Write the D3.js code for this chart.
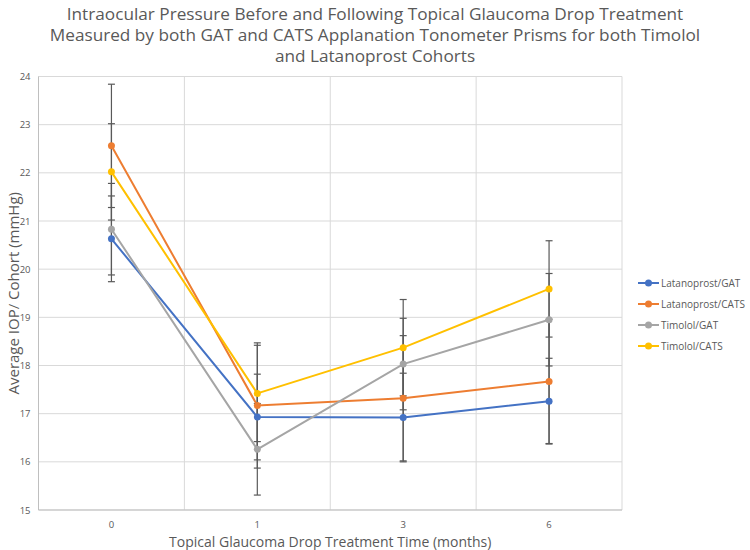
<!DOCTYPE html>
<html><head><meta charset="utf-8">
<script src="https://cdn.jsdelivr.net/npm/d3@7"></script>
<style>body{margin:0;background:#fff}svg{display:block}text{font-family:"Open Sans",sans-serif;fill:#595959}</style>
</head><body><svg id="c" width="750" height="550"></svg>
<script>
const categories = ["0", "1", "3", "6"];
const seriesNames = ["Latanoprost/GAT", "Latanoprost/CATS", "Timolol/GAT", "Timolol/CATS"];
const latanoprostGAT = [20.63, 16.93, 16.92, 17.26];
const latanoprostCATS = [22.56, 17.17, 17.32, 17.67];
const timololGAT = [20.83, 16.26, 18.03, 18.95];
const timololCATS = [22.02, 17.42, 18.37, 19.59];
const errLatanoprostGAT = [0.89, 0.89, 0.92, 0.89];
const errLatanoprostCATS = [1.28, 1.30, 1.30, 1.29];
const errTimololGAT = [0.95, 0.95, 0.95, 0.96];
const errTimololCATS = [1.00, 1.00, 1.00, 1.00];
const yTicks = [15, 16, 17, 18, 19, 20, 21, 22, 23, 24];
const colors = ["#4472C4", "#ED7D31", "#A5A5A5", "#FFC000"];

const series = [latanoprostGAT, latanoprostCATS, timololGAT, timololCATS];
const errs = [errLatanoprostGAT, errLatanoprostCATS, errTimololGAT, errTimololCATS];

const svg = d3.select("#c");
const L = 38.5, R = 622, T = 76.5, B = 510;
const x = d3.scaleBand().domain(categories).range([L, R]);
const y = d3.scaleLinear().domain([15, 24]).range([B, T]);

// gridlines
svg.append("g").selectAll("line").data(yTicks).join("line")
  .attr("x1", L).attr("x2", R).attr("y1", d => y(d)).attr("y2", d => y(d))
  .attr("stroke", "#d9d9d9").attr("stroke-width", 1);
const bounds = categories.map(c => x(c)).concat([R]);
svg.append("g").selectAll("line").data(bounds).join("line")
  .attr("x1", d => d).attr("x2", d => d).attr("y1", T).attr("y2", B)
  .attr("stroke", "#d9d9d9").attr("stroke-width", 1);
// axis lines
svg.append("line").attr("x1", L).attr("x2", L).attr("y1", T).attr("y2", B).attr("stroke", "#bfbfbf");
svg.append("line").attr("x1", L).attr("x2", R).attr("y1", B).attr("y2", B).attr("stroke", "#bfbfbf");

// y ticks
const yAxis = svg.append("g").attr("transform", `translate(${L},0)`)
  .call(d3.axisLeft(y).tickValues(yTicks).tickSize(0).tickPadding(8));
yAxis.select(".domain").remove();
yAxis.selectAll("text").style("font-size", "9.5px").attr("fill", "#595959").style("font-family", "Open Sans");
// x ticks
const xAxis = svg.append("g").attr("transform", `translate(0,${B})`)
  .call(d3.axisBottom(x).tickSize(0).tickPadding(11));
xAxis.select(".domain").remove();
xAxis.selectAll("text").style("font-size", "9.5px").attr("fill", "#595959").style("font-family", "Open Sans");

const cx = c => x(c) + x.bandwidth() / 2;

// lines
series.forEach((s, i) => {
  const line = d3.line().x((d, j) => cx(categories[j])).y(d => y(d));
  svg.append("path").attr("d", line(s)).attr("fill", "none")
    .attr("stroke", colors[i]).attr("stroke-width", 2);
});
// error bars
series.forEach((s, i) => {
  const g = svg.append("g").attr("stroke", "#595959").attr("stroke-width", 1.2);
  s.forEach((v, j) => {
    const xx = cx(categories[j]);
    const e = errs[i][j];
    g.append("line").attr("x1", xx).attr("x2", xx).attr("y1", y(v - e)).attr("y2", y(v + e));
    g.append("line").attr("x1", xx - 3.5).attr("x2", xx + 3.5).attr("y1", y(v + e)).attr("y2", y(v + e));
    g.append("line").attr("x1", xx - 3.5).attr("x2", xx + 3.5).attr("y1", y(v - e)).attr("y2", y(v - e));
  });
});
// markers
series.forEach((s, i) => {
  svg.append("g").selectAll("circle").data(s).join("circle")
    .attr("cx", (d, j) => cx(categories[j])).attr("cy", d => y(d)).attr("r", 3.5)
    .attr("fill", colors[i]);
});

// title
const titleLines = ["Intraocular Pressure Before and Following Topical Glaucoma Drop Treatment",
  "Measured by both GAT and CATS Applanation Tonometer Prisms for both Timolol",
  "and Latanoprost Cohorts"];
svg.append("g").selectAll("text").data(titleLines).join("text")
  .attr("x", 375).attr("y", (d, i) => 20 + i * 21).attr("text-anchor", "middle")
  .style("font-size", "17.2px").text(d => d);

// axis titles
svg.append("text").attr("transform", `translate(19,${(T + B) / 2}) rotate(-90)`)
  .attr("text-anchor", "middle").style("font-size", "15px").text("Average IOP/ Cohort (mmHg)");
svg.append("text").attr("x", (L + R) / 2).attr("y", 547).attr("text-anchor", "middle")
  .style("font-size", "14px").text("Topical Glaucoma Drop Treatment Time (months)");

// legend
const lg = svg.append("g");
seriesNames.forEach((n, i) => {
  const ly = 283 + i * 21;
  lg.append("line").attr("x1", 638).attr("x2", 659).attr("y1", ly).attr("y2", ly)
    .attr("stroke", colors[i]).attr("stroke-width", 2);
  lg.append("circle").attr("cx", 648.5).attr("cy", ly).attr("r", 3.5).attr("fill", colors[i]);
  lg.append("text").attr("x", 661).attr("y", ly + 3.5).style("font-size", "10px").text(n);
});
</script></body></html>
